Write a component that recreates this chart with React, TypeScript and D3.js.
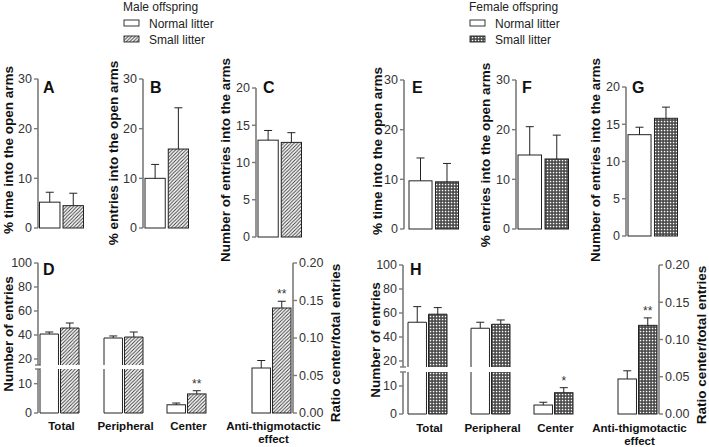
import React from "react";
import * as d3 from "d3";

// ---------- DATA ----------
const litters = ["Normal litter", "Small litter"];
const categories = ["Total", "Peripheral", "Center", "Anti-thigmotactic effect"];

// Male offspring, panels A-C (mean, SEM)
const maleTimeOpenArms = [5.2, 4.5];
const maleTimeOpenArmsSem = [2.0, 2.5];
const maleEntriesOpenArms = [10.0, 15.9];
const maleEntriesOpenArmsSem = [2.8, 8.3];
const maleEntriesArms = [13.0, 12.7];
const maleEntriesArmsSem = [1.3, 1.3];

// Female offspring, panels E-G
const femaleTimeOpenArms = [9.7, 9.5];
const femaleTimeOpenArmsSem = [4.6, 3.7];
const femaleEntriesOpenArms = [14.9, 14.1];
const femaleEntriesOpenArmsSem = [5.7, 4.8];
const femaleEntriesArms = [13.6, 15.8];
const femaleEntriesArmsSem = [1.0, 1.5];

// Panel D (male): Total, Peripheral, Center entries; ratio for anti-thigmotactic
const maleEntriesNormal = [40.8, 37.5, 2.8];
const maleEntriesNormalSem = [1.7, 1.7, 0.6];
const maleEntriesSmall = [45.8, 38.3, 6.5];
const maleEntriesSmallSem = [4.2, 4.2, 1.1];
const maleRatio = [0.06, 0.14];
const maleRatioSem = [0.01, 0.009];
const maleSignif = ["", "", "**", "**"];

// Panel H (female)
const femaleEntriesNormal = [52.3, 47.3, 3.2];
const femaleEntriesNormalSem = [13.0, 5.0, 1.0];
const femaleEntriesSmall = [59.0, 50.6, 7.6];
const femaleEntriesSmallSem = [5.5, 3.6, 1.8];
const femaleRatio = [0.047, 0.119];
const femaleRatioSem = [0.011, 0.01];
const femaleSignif = ["", "", "*", "**"];

// Tick labels
const ticks30 = [0, 10, 20, 30];
const ticks20 = [0, 5, 10, 15, 20];
const lowerTicks = [0, 10];
const upperTicks = [20, 40, 60, 80, 100];
const ratioTicks = [0, 0.05, 0.1, 0.15, 0.2];

// ---------- STYLE ----------
const FONT = "'Liberation Sans', Arial, Helvetica, sans-serif";
const AXIS = "#7a7a7a";
const INK = "#222";
const TXT = "#333";

function fillFor(i: number, female: boolean) {
  if (i === 0) return "#fff";
  return female ? "url(#checker)" : "url(#hatch)";
}

function ErrorBar({ cx, yTop, yErr }: { cx: number; yTop: number; yErr: number }) {
  return (
    <g stroke={INK} strokeWidth={1}>
      <line x1={cx} x2={cx} y1={yTop} y2={yErr} />
      <line x1={cx - 4} x2={cx + 4} y1={yErr} y2={yErr} />
    </g>
  );
}

function LeftAxis({ x, scale, ticks, y0, y1, fmt }: any) {
  return (
    <g>
      <line x1={x} x2={x} y1={y0} y2={y1} stroke={AXIS} strokeWidth={1.6} />
      {ticks.map((t: number) => (
        <g key={t}>
          <line x1={x - 4} x2={x} y1={scale(t)} y2={scale(t)} stroke={AXIS} strokeWidth={1.4} />
          <text x={x - 6} y={scale(t)} dy="0.35em" textAnchor="end" fontSize={12.5} fill={TXT} fontFamily={FONT}>
            {fmt ? fmt(t) : t}
          </text>
        </g>
      ))}
    </g>
  );
}

function TopPanel({ cfg, values, sems, female }: any) {
  const y = d3.scaleLinear().domain([0, cfg.max]).range([cfg.y0, cfg.yTop]);
  const x = d3.scaleBand().domain(litters).range([cfg.bx0, cfg.bx1]).paddingInner(0.13);
  return (
    <g>
      <LeftAxis x={cfg.axisX} scale={y} ticks={cfg.ticks} y0={y(0)} y1={y(cfg.max)} />
      {litters.map((l, i) => {
        const bx = x(l)!;
        const w = x.bandwidth();
        return (
          <g key={l}>
            <rect x={bx} y={y(values[i])} width={w} height={y(0) - y(values[i])} fill={fillFor(i, female)} stroke={INK} strokeWidth={1} />
            <ErrorBar cx={bx + w / 2} yTop={y(values[i])} yErr={y(values[i] + sems[i])} />
          </g>
        );
      })}
      <text x={cfg.letterX} y={cfg.letterY} fontSize={16} fontWeight="bold" fontFamily={FONT} fill="#111">
        {cfg.letter}
      </text>
      <text
        transform={`translate(${cfg.titleX},${cfg.titleY}) rotate(-90)`}
        textAnchor="middle"
        fontSize={13.5}
        fontWeight="bold"
        fontFamily={FONT}
        fill="#111"
      >
        {cfg.title}
      </text>
    </g>
  );
}

function BottomPanel({ cfg, normal, normalSem, small, smallSem, ratio, ratioSem, signif, female }: any) {
  const yLower = d3.scaleLinear().domain([0, 15]).range([cfg.y0, cfg.lowerTop]);
  const yUpper = d3.scaleLinear().domain([15, 100]).range([cfg.upperBottom, cfg.yTop]);
  const yLeft = (v: number) => (v <= 15 ? yLower(v) : yUpper(v));
  const yRatio = d3.scaleLinear().domain([0, 0.2]).range([cfg.y0, cfg.yTop]);
  const gx = d3.scaleOrdinal<string, number>().domain(categories).range(cfg.groupStarts);
  const inner = d3.scaleBand().domain(litters).range([0, cfg.groupWidth]).paddingInner(0.1);
  const w = inner.bandwidth();

  const bars: any[] = [];
  categories.forEach((c, ci) => {
    litters.forEach((l, li) => {
      const bx = gx(c) + inner(l)!;
      const isRatio = ci === 3;
      const v = isRatio ? ratio[li] : li === 0 ? normal[ci] : small[ci];
      const s = isRatio ? ratioSem[li] : li === 0 ? normalSem[ci] : smallSem[ci];
      const sc = isRatio ? yRatio : yLeft;
      const fill = fillFor(li, female);
      const key = c + l;
      if (!isRatio && v > 15) {
        const yl = yLower(15);
        const yu = yUpper(15);
        const yt = yUpper(v);
        bars.push(
          <g key={key}>
            <rect x={bx} y={yl} width={w} height={cfg.y0 - yl} fill={fill} />
            <rect x={bx} y={yt} width={w} height={yu - yt} fill={fill} />
            <path
              d={`M${bx},${yl}V${cfg.y0}H${bx + w}V${yl}M${bx},${yu}V${yt}H${bx + w}V${yu}`}
              fill="none"
              stroke={INK}
              strokeWidth={1}
            />
            <ErrorBar cx={bx + w / 2} yTop={yt} yErr={sc(v + s)} />
          </g>
        );
      } else {
        bars.push(
          <g key={key}>
            <rect x={bx} y={sc(v)} width={w} height={cfg.y0 - sc(v)} fill={fill} stroke={INK} strokeWidth={1} />
            <ErrorBar cx={bx + w / 2} yTop={sc(v)} yErr={sc(v + s)} />
          </g>
        );
      }
      if (li === 1 && signif[ci]) {
        bars.push(
          <text key={key + "s"} x={bx + w / 2} y={sc(v + s) - 3} textAnchor="middle" fontSize={12} fill={TXT} fontFamily={FONT}>
            {signif[ci]}
          </text>
        );
      }
    });
  });

  const ax = cfg.axisL;
  return (
    <g>
      {/* broken left axis */}
      <LeftAxis x={ax} scale={yLower} ticks={lowerTicks} y0={cfg.y0} y1={cfg.lowerTop} />
      <LeftAxis x={ax} scale={yUpper} ticks={upperTicks} y0={cfg.upperBottom} y1={cfg.yTop} />
      <line x1={ax - 3} x2={ax + 3} y1={cfg.upperBottom} y2={cfg.upperBottom} stroke={AXIS} strokeWidth={1.4} />
      <line x1={ax - 3} x2={ax + 3} y1={cfg.lowerTop} y2={cfg.lowerTop} stroke={AXIS} strokeWidth={1.4} />
      {/* right axis */}
      <line x1={cfg.axisR} x2={cfg.axisR} y1={cfg.y0} y2={cfg.yTop} stroke={AXIS} strokeWidth={1.6} />
      {ratioTicks.map((t) => (
        <g key={t}>
          <line x1={cfg.axisR} x2={cfg.axisR + 4} y1={yRatio(t)} y2={yRatio(t)} stroke={AXIS} strokeWidth={1.4} />
          <text x={cfg.axisR + 6} y={yRatio(t)} dy="0.35em" fontSize={12.5} fill={TXT} fontFamily={FONT}>
            {d3.format(".2f")(t)}
          </text>
        </g>
      ))}
      {bars}
      {categories.map((c) => {
        const cx = gx(c) + cfg.groupWidth / 2 + 2;
        const parts = c === "Anti-thigmotactic effect" ? ["Anti-thigmotactic", "effect"] : [c];
        return (
          <text key={c} x={cx} y={cfg.labelY} textAnchor="middle" fontSize={11.5} fontWeight="bold" fontFamily={FONT} fill="#111">
            {parts.map((p, i) => (
              <tspan key={p} x={cx} dy={i === 0 ? 0 : 13}>
                {p}
              </tspan>
            ))}
          </text>
        );
      })}
      <text x={cfg.letterX} y={cfg.letterY} fontSize={16} fontWeight="bold" fontFamily={FONT} fill="#111">
        {cfg.letter}
      </text>
      <text transform={`translate(${cfg.leftTitleX},${cfg.leftTitleY}) rotate(-90)`} textAnchor="middle" fontSize={13.5} fontWeight="bold" fontFamily={FONT} fill="#111">
        Number of entries
      </text>
      <text transform={`translate(${cfg.rightTitleX},${cfg.rightTitleY}) rotate(-90)`} textAnchor="middle" fontSize={13.5} fontWeight="bold" fontFamily={FONT} fill="#111">
        Ratio center/total entries
      </text>
    </g>
  );
}

function Legend({ x, title, female }: any) {
  return (
    <g fontFamily={FONT} fontSize={12} fill="#222">
      <text x={x - 1} y={11}>{title}</text>
      {litters.map((l, i) => (
        <g key={l}>
          <rect x={x} y={20 + i * 16} width={15} height={6} fill={fillFor(i, female)} stroke={INK} strokeWidth={0.9} />
          <text x={x + 25} y={27.5 + i * 16}>{l}</text>
        </g>
      ))}
    </g>
  );
}

export default function App() {
  const A = { axisX: 38, y0: 228, yTop: 79, max: 30, ticks: ticks30, bx0: 39.5, bx1: 83.5, letter: "A", letterX: 43, letterY: 93, title: "% time into the open arms", titleX: 13, titleY: 150 };
  const B = { axisX: 143, y0: 228, yTop: 79, max: 30, ticks: ticks30, bx0: 145, bx1: 188.5, letter: "B", letterX: 150, letterY: 93, title: "% entries into the open arms", titleX: 118, titleY: 153 };
  const C = { axisX: 256, y0: 237, yTop: 88, max: 20, ticks: ticks20, bx0: 258, bx1: 301.5, letter: "C", letterX: 263, letterY: 93, title: "Number of entries into the arms", titleX: 230, titleY: 160 };
  const E = { axisX: 404, y0: 229, yTop: 80, max: 30, ticks: ticks30, bx0: 409, bx1: 458.5, letter: "E", letterX: 412, letterY: 93, title: "% time into the open arms", titleX: 382, titleY: 151 };
  const F = { axisX: 516, y0: 229, yTop: 80, max: 30, ticks: ticks30, bx0: 518, bx1: 568.5, letter: "F", letterX: 522, letterY: 93, title: "% entries into the open arms", titleX: 490, titleY: 155 };
  const G = { axisX: 626, y0: 236, yTop: 87, max: 20, ticks: ticks20, bx0: 628, bx1: 677.5, letter: "G", letterX: 632, letterY: 93, title: "Number of entries into the arms", titleX: 600, titleY: 160 };
  const D = { axisL: 38, axisR: 293, y0: 413, yTop: 263, lowerTop: 369, upperBottom: 365, groupStarts: [40, 104, 167, 252], groupWidth: 39, labelY: 430, letter: "D", letterX: 43, letterY: 275, leftTitleX: 13, leftTitleY: 334, rightTitleX: 340, rightTitleY: 343 };
  const H = { axisL: 403, axisR: 659, y0: 414, yTop: 265, lowerTop: 372, upperBottom: 367, groupStarts: [408, 471, 534, 618], groupWidth: 39, labelY: 432, letter: "H", letterX: 410, letterY: 275, leftTitleX: 380, leftTitleY: 340, rightTitleX: 706, rightTitleY: 345 };

  return (
    <svg width={709} height={447} style={{ position: "absolute", left: 0, top: 0, background: "#fff" }}>
      <defs>
        <pattern id="hatch" patternUnits="userSpaceOnUse" width={3.5} height={3.5}>
          <rect width={3.5} height={3.5} fill="#fff" />
          <path d="M-1,1 l2,-2 M0,3.5 l3.5,-3.5 M2.5,4.5 l2,-2" stroke="#333" strokeWidth={0.9} />
        </pattern>
        <pattern id="checker" patternUnits="userSpaceOnUse" width={3} height={3}>
          <rect width={3} height={3} fill="#444" />
          <rect x={0.8} y={0.8} width={1.5} height={1.5} fill="#fff" />
        </pattern>
      </defs>
      <rect width={709} height={447} fill="#fff" />
      <Legend x={124} title="Male offspring" female={false} />
      <Legend x={470} title="Female offspring" female={true} />
      <TopPanel cfg={A} values={maleTimeOpenArms} sems={maleTimeOpenArmsSem} female={false} />
      <TopPanel cfg={B} values={maleEntriesOpenArms} sems={maleEntriesOpenArmsSem} female={false} />
      <TopPanel cfg={C} values={maleEntriesArms} sems={maleEntriesArmsSem} female={false} />
      <TopPanel cfg={E} values={femaleTimeOpenArms} sems={femaleTimeOpenArmsSem} female={true} />
      <TopPanel cfg={F} values={femaleEntriesOpenArms} sems={femaleEntriesOpenArmsSem} female={true} />
      <TopPanel cfg={G} values={femaleEntriesArms} sems={femaleEntriesArmsSem} female={true} />
      <BottomPanel cfg={D} normal={maleEntriesNormal} normalSem={maleEntriesNormalSem} small={maleEntriesSmall} smallSem={maleEntriesSmallSem} ratio={maleRatio} ratioSem={maleRatioSem} signif={maleSignif} female={false} />
      <BottomPanel cfg={H} normal={femaleEntriesNormal} normalSem={femaleEntriesNormalSem} small={femaleEntriesSmall} smallSem={femaleEntriesSmallSem} ratio={femaleRatio} ratioSem={femaleRatioSem} signif={femaleSignif} female={true} />
    </svg>
  );
}
